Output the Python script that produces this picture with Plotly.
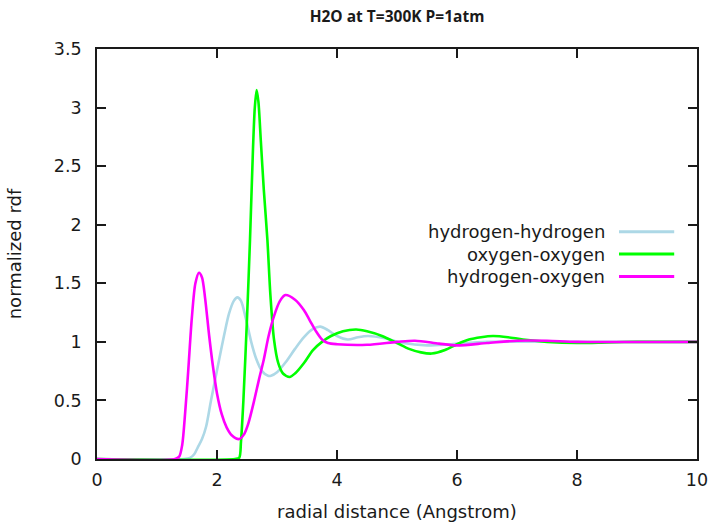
import plotly.graph_objects as go

# ---- data ----
hh_x = [0, 1.45, 1.55, 1.62, 1.68, 1.75, 1.82, 1.90, 1.97, 2.04, 2.12, 2.20, 2.28, 2.34,
        2.40, 2.48, 2.57, 2.65, 2.75, 2.85, 2.90, 3.00, 3.15, 3.30, 3.45, 3.60, 3.72,
        3.85, 4.00, 4.18, 4.35, 4.52, 4.80, 5.10, 5.50, 5.90, 6.50, 8.0, 10.0]
hh_y = [0, 0, 0.01, 0.04, 0.10, 0.17, 0.28, 0.50, 0.68, 0.86, 1.06, 1.24, 1.35, 1.38,
        1.35, 1.20, 1.00, 0.86, 0.75, 0.71, 0.71, 0.74, 0.83, 0.94, 1.04, 1.11, 1.13,
        1.10, 1.05, 1.02, 1.04, 1.05, 1.03, 0.99, 0.97, 0.98, 1.00, 1.00, 1.00]

oo_x = [0, 2.30, 2.37, 2.40, 2.44, 2.50, 2.55, 2.60, 2.63, 2.66, 2.69, 2.73, 2.78, 2.84,
        2.89, 2.95, 3.02, 3.10, 3.21, 3.30, 3.45, 3.60, 3.75, 3.90, 4.10, 4.32, 4.50,
        4.75, 5.00, 5.20, 5.40, 5.58, 5.80, 6.00, 6.20, 6.40, 6.60, 6.85, 7.10, 7.50,
        8.00, 8.50, 9.00, 10.0]
oo_y = [0, 0, 0.01, 0.15, 0.50, 1.20, 1.87, 2.65, 3.00, 3.15, 3.05, 2.72, 2.30, 1.87,
        1.40, 1.02, 0.82, 0.73, 0.70, 0.73, 0.82, 0.93, 1.00, 1.05, 1.09, 1.105, 1.09,
        1.05, 0.99, 0.94, 0.91, 0.90, 0.93, 0.98, 1.02, 1.04, 1.05, 1.04, 1.02, 1.00,
        0.99, 0.995, 1.00, 1.00]

ho_x = [0, 1.30, 1.37, 1.42, 1.47, 1.52, 1.58, 1.64, 1.70, 1.75, 1.80, 1.87, 1.93, 2.00,
        2.08, 2.16, 2.25, 2.37, 2.45, 2.52, 2.62, 2.70, 2.78, 2.86, 2.95, 3.05, 3.14,
        3.30, 3.45, 3.55, 3.65, 3.75, 3.85, 4.00, 4.50, 5.00, 5.30, 5.70, 6.00, 6.50,
        7.00, 7.50, 8.00, 10.0]
ho_y = [0, 0, 0.02, 0.12, 0.40, 0.75, 1.20, 1.50, 1.59, 1.55, 1.38, 1.05, 0.80, 0.56,
        0.38, 0.27, 0.20, 0.17, 0.21, 0.30, 0.50, 0.68, 0.85, 1.05, 1.22, 1.35, 1.40,
        1.36, 1.27, 1.18, 1.09, 1.02, 0.99, 0.98, 0.975, 1.00, 1.01, 0.985, 0.97, 0.99,
        1.01, 1.01, 1.00, 1.00]

series_names = ["hydrogen-hydrogen", "oxygen-oxygen", "hydrogen-oxygen"]
series_colors = ["#add8e6", "#00ff00", "#ff00ff"]
x_ticks = [0, 2, 4, 6, 8, 10]
y_ticks = [0, 0.5, 1, 1.5, 2, 2.5, 3, 3.5]
y_tick_text = ["0", "0.5", "1", "1.5", "2", "2.5", "3", "3.5"]

FONT = "DejaVu Sans"
TITLE_FONT = "Open Sans"
TXT = "#1a1a1a"

fig = go.Figure()
for xs, ys, name, col in zip([hh_x, oo_x, ho_x], [hh_y, oo_y, ho_y], series_names, series_colors):
    fig.add_trace(go.Scatter(x=xs, y=ys, mode="lines", name=name,
                             line=dict(color=col, width=2.6, shape="spline", smoothing=0.8),
                             showlegend=False))

# custom gnuplot-style legend: text on the left, line sample on the right
legend_y = [0.554, 0.5, 0.445]
for name, col, ly in zip(series_names, series_colors, legend_y):
    fig.add_annotation(xref="paper", yref="paper", x=0.848, y=ly, text=name,
                       showarrow=False, xanchor="right", yanchor="middle",
                       borderpad=0,
                       font=dict(family=FONT, size=18, color=TXT))
    fig.add_shape(type="line", xref="paper", yref="paper", x0=0.87, x1=0.962,
                  y0=ly, y1=ly, line=dict(color=col, width=3))

axis_common = dict(showgrid=False, zeroline=False, showline=True, linecolor=TXT,
                   linewidth=1.6, mirror="ticks", ticks="inside", ticklen=9,
                   tickwidth=1.5, tickcolor=TXT, automargin=False,
                   tickfont=dict(family=FONT, size=17.5, color=TXT))

fig.update_layout(
    width=714, height=527,
    margin=dict(l=97, r=17, t=49, b=68),
    paper_bgcolor="white", plot_bgcolor="white",
    title=dict(text="<b>H2O at T=300K P=1atm</b>", x=0.5, xref="paper",
               y=1 - 17 / 527, yref="container", yanchor="middle",
               font=dict(family=TITLE_FONT, size=15.5, color=TXT)),
    xaxis=dict(range=[0, 10], tickvals=x_ticks, ticklabelstandoff=4,
               title=dict(text="radial distance (Angstrom)", standoff=17,
                          font=dict(family=FONT, size=18, color=TXT)),
               **axis_common),
    yaxis=dict(range=[0, 3.5], tickvals=y_ticks, ticktext=y_tick_text,
               ticklabelstandoff=10,
               title=dict(text="normalized rdf", standoff=28,
                          font=dict(family=FONT, size=18, color=TXT)),
               **axis_common),
)

fig.write_html("out.html", config={"displayModeBar": False},
               post_script="document.body.style.margin='0';")
